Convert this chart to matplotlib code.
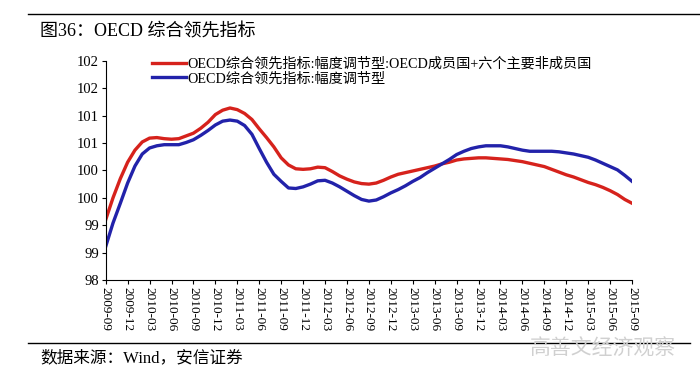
import matplotlib.pyplot as plt
import pandas as pd
import numpy as np

# monthly values, 2009-09 .. 2015-09
months = pd.period_range('2009-09', '2015-09', freq='M')

red_vals = [
    99.10, 99.50, 99.85, 100.15, 100.37, 100.52, 100.59, 100.60, 100.58, 100.57,
    100.58, 100.63, 100.68, 100.77, 100.88, 101.02, 101.10, 101.14, 101.11, 101.04,
    100.93, 100.76, 100.60, 100.43, 100.23, 100.10, 100.03, 100.02, 100.03, 100.06,
    100.05, 99.98, 99.90, 99.84, 99.79, 99.76, 99.75, 99.77, 99.82, 99.88,
    99.93, 99.96, 99.99, 100.02, 100.05, 100.08, 100.12, 100.15, 100.19, 100.21,
    100.22, 100.23, 100.23, 100.22, 100.21, 100.20, 100.18, 100.16, 100.13, 100.10,
    100.07, 100.02, 99.97, 99.92, 99.88, 99.83, 99.78, 99.74, 99.69, 99.63,
    99.56, 99.47, 99.40,
]

blue_vals = [
    98.61, 99.04, 99.40, 99.77, 100.08, 100.30, 100.41, 100.45, 100.47, 100.47,
    100.47, 100.51, 100.56, 100.64, 100.73, 100.83, 100.90, 100.92, 100.90, 100.82,
    100.66, 100.40, 100.15, 99.93, 99.80, 99.68, 99.67, 99.70, 99.75, 99.81,
    99.82, 99.77, 99.70, 99.62, 99.54, 99.47, 99.44, 99.46, 99.52, 99.59,
    99.65, 99.72, 99.80, 99.87, 99.96, 100.04, 100.12, 100.20, 100.29, 100.35,
    100.40, 100.43, 100.45, 100.45, 100.45, 100.43, 100.40, 100.37, 100.35, 100.35,
    100.35, 100.35, 100.34, 100.32, 100.30, 100.27, 100.24, 100.19, 100.13, 100.07,
    100.01, 99.91, 99.80,
]

red_name = 'OECD综合领先指标:幅度调节型:OECD成员国+六个主要非成员国'
blue_name = 'OECD综合领先指标:幅度调节型'

ytick_vals = [98, 98.5, 99, 99.5, 100, 100.5, 101, 101.5, 102]
ytick_labels = ['98', '99', '99', '100', '100', '101', '101', '102', '102']

serif_cjk = ['Liberation Serif', 'Noto Sans CJK SC']
plt.rcParams['font.family'] = serif_cjk

fig = plt.figure(figsize=(7.0, 3.83), dpi=100)
ax = fig.add_axes([0.151, 0.269, 0.752, 0.572])

x = np.arange(len(months))
ax.plot(x, red_vals, color='#d6221c', lw=2.4, label=red_name)
ax.plot(x, blue_vals, color='#2222aa', lw=2.4, label=blue_name)

ax.set_xlim(0, len(months) - 1)
ax.set_ylim(98, 102)
ax.set_yticks(ytick_vals)
ax.set_yticklabels(ytick_labels, fontsize=10.5)

qx = x[::3]
ax.set_xticks(qx)
ax.set_xticklabels([str(months[i]) for i in qx], rotation=270, fontsize=9.5)

for s in ['top', 'right']:
    ax.spines[s].set_visible(False)
ax.tick_params(direction='out', length=3, width=0.8, pad=2)

ax.legend(loc='upper left', bbox_to_anchor=(145 / 700, 1 - 50 / 383),
          bbox_transform=fig.transFigure, frameon=False, fontsize=10.2,
          handlelength=2.4, handletextpad=0.1, labelspacing=0.1,
          borderpad=0)

# header / footer
fig.add_artist(plt.Line2D([28 / 700, 1.0], [1 - 14 / 383] * 2, color='black', lw=1))
fig.add_artist(plt.Line2D([28 / 700, 690 / 700], [1 - 343 / 383] * 2, color='black', lw=1))
fig.text(40 / 700, 1 - 32 / 383, '图36：OECD 综合领先指标', fontsize=13, va='center', ha='left')
fig.text(40 / 700, 1 - 358 / 383, '数据来源：Wind，安信证券', fontsize=12, va='center', ha='left')
fig.text(530 / 700, 1 - 349 / 383, '高善文经济观察', fontsize=15, color='#d0d0d0',
         va='center', ha='left', family=['Noto Sans CJK SC'])

fig.savefig('out.png', dpi=100)
